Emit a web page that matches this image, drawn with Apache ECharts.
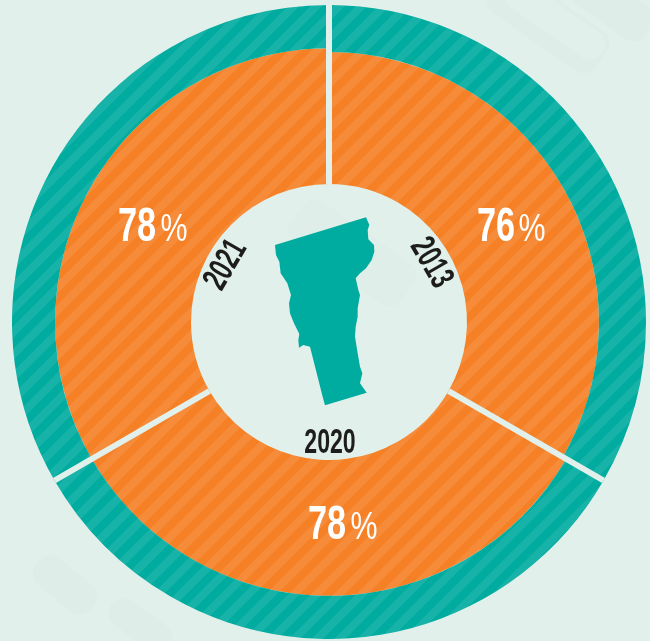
<!DOCTYPE html>
<html>
	<head>
		<title>Vermont donut</title>
		<meta http-equiv="content-type" content="text/html; charset=UTF-8">
		<script src="https://cdn.jsdelivr.net/npm/echarts@6/dist/echarts.min.js"></script>
		<style>
			html, body {height: 100%; width: 100%; margin: 0; background: #e1f0ea;}
			#container {width: 650px; height: 641px;}
		</style>
	</head>
	<body>
		<div id="container"></div>
		<script>
			const years = ['2013', '2020', '2021'];
			const percents = [76, 78, 78];
			const remainders = percents.map(function (p) { return 100 - p; });
			// outline of the state
			const vermontOutline = [[255,195],[528,112],[538,135],[533,150],[535,178],[552,195],[553,215],[545,240],[528,265],[510,280],[497,295],[505,330],[510,345],[503,385],[503,410],[497,440],[495,470],[503,520],[510,560],[517,580],[510,610],[530,638],[405,676],[398,650],[360,500],[340,495],[327,503],[325,480],[328,462],[312,430],[300,400],[297,370],[303,345],[292,310],[272,280],[268,245],[258,225]];

			const stripes = {
				symbol: 'rect',
				color: 'rgba(255,255,255,0.09)',
				dashArrayX: [1, 0],
				dashArrayY: [8, 8],
				rotation: -Math.PI / 4
			};
			// label places, same order as years
			const numberPos = [[496, 227], [327, 525], [137, 227]];
			const percentPos = [[532, 231], [364, 529], [174, 231]];
			const yearPos = [[431, 263], [330, 443], [226, 265]];
			const yearTilt = [-Math.PI / 3, 0, Math.PI / 3];

			function squeezedText(text, pos, size, weight, squeeze, color, tilt) {
				return {
					type: 'text',
					z: 10,
					x: pos[0],
					y: pos[1],
					scaleX: squeeze,
					rotation: tilt || 0,
					style: {
						text: text,
						fill: color,
						font: weight + ' ' + size + 'px "Liberation Sans"',
						textAlign: 'center',
						textVerticalAlign: 'middle'
					}
				};
			}
			function watermark(x, y, w, h, deg, color) {
				return {
					type: 'rect',
					x: x,
					y: y,
					rotation: -deg * Math.PI / 180,
					shape: {x: -w / 2, y: -h / 2, width: w, height: h, r: 14},
					style: {fill: color}
				};
			}

			const graphics = [
				watermark(352, 253, 135, 50, 35, '#dfeee8'),
				watermark(548, 22, 130, 48, 35, '#deede7'),
				watermark(555, 20, 115, 30, 35, '#e1f0ea'),
				watermark(612, 5, 90, 40, 35, '#deede7'),
				watermark(65, 585, 70, 34, 40, '#deede7'),
				watermark(140, 625, 70, 30, 35, '#deede7'),
				{
					type: 'polygon',
					z: 10,
					shape: {points: vermontOutline.map(function (p) { return [190 + p[0] / 3, 180 + p[1] / 3]; })},
					style: {fill: '#00ab9f'}
				}
			];
			years.forEach(function (y, i) {
				graphics.push(squeezedText(percents[i] + '', numberPos[i], 49, 'bold', 0.7, '#fff'));
				graphics.push(squeezedText('%', percentPos[i], 38, 'normal', 0.8, '#fff'));
				graphics.push(squeezedText(y, yearPos[i], 35, 'bold', 0.66, '#1d1d1b', yearTilt[i]));
			});

			const chart = echarts.init(document.getElementById('container'));
			chart.setOption({
				backgroundColor: '#e1f0ea',
				animation: false,
				polar: {center: [329, 322], radius: [138, 317]},
				angleAxis: {
					type: 'category',
					data: years,
					startAngle: 90,
					z: 5,
					axisLine: {show: false},
					axisTick: {show: false},
					axisLabel: {show: false},
					splitLine: {show: true, lineStyle: {color: '#e1f0ea', width: 6}}
				},
				radiusAxis: {min: 8.7, max: 100, show: false},
				graphic: graphics,
				series: [
					{
						type: 'bar',
						coordinateSystem: 'polar',
						stack: 'total',
						barCategoryGap: 0,
						data: percents,
						itemStyle: {color: '#f58025', decal: stripes}
					},
					{
						type: 'bar',
						coordinateSystem: 'polar',
						stack: 'total',
						barCategoryGap: 0,
						data: remainders,
						itemStyle: {color: '#00ab9f', decal: stripes}
					}
				]
			});
		</script>
	</body>
</html>
